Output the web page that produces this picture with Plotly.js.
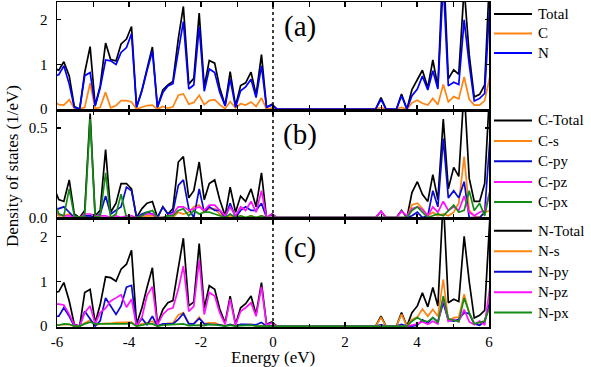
<!DOCTYPE html>
<html>
<head>
<meta charset="utf-8">
<script src="https://cdn.plot.ly/plotly-3.0.1.min.js"></script>
<style>html,body{margin:0;padding:0;background:#fff;}#chart{width:591px;height:367px;}</style>
</head>
<body>
<div id="chart"></div>
<script>
// Energy grid (eV)
const energy = [-6.09,-5.95,-5.81,-5.66,-5.52,-5.37,-5.23,-5.08,-4.94,-4.80,-4.65,-4.51,-4.36,-4.22,-4.07,-3.93,-3.79,-3.64,-3.50,-3.35,-3.21,-3.06,-2.92,-2.78,-2.63,-2.49,-2.34,-2.20,-2.05,-1.91,-1.77,-1.62,-1.48,-1.33,-1.19,-1.04,-0.90,-0.76,-0.61,-0.47,-0.32,-0.18,-0.03,0.11,0.26,0.40,0.54,0.69,0.83,0.98,1.12,1.27,1.41,1.55,1.70,1.84,1.99,2.13,2.28,2.42,2.56,2.71,2.85,3.00,3.14,3.29,3.43,3.57,3.72,3.86,4.01,4.15,4.30,4.44,4.58,4.73,4.87,5.02,5.16,5.31,5.45,5.59,5.74,5.88,6.03];

// Panel (a)
const total = [0.92,0.87,1.06,0.74,0.06,0,0.82,1.40,0.08,0.52,1.48,1.11,1.08,1.46,1.57,1.85,0.04,0.43,0.90,1.39,0.04,0.43,0.54,0.62,1.58,2.30,0.56,0.69,2.15,0.50,1.09,1.03,0.48,0.08,0.84,0.07,0.53,0.59,0.83,0.32,1.22,0.04,0.11,0,0,0,0,0,0,0,0,0,0,0,0,0,0,0,0,0,0,0,0,0.26,0,0,0,0.34,0,0.44,0.65,0.87,0.48,1.10,0.50,3.40,0.68,0.88,0.78,2.72,1.22,0.27,0.33,0.54,3.25];
const cTot = [0.17,0.10,0.09,0.21,0.02,0,0.04,0.58,0.01,0.04,0.38,0.03,0.08,0.19,0.19,0.16,0,0.05,0.08,0.09,0,0.06,0.02,0.05,0.31,0.34,0.11,0.15,0.31,0.10,0.19,0.21,0.10,0.01,0.17,0.03,0.12,0.09,0.16,0.06,0.25,0,0.02,0,0,0,0,0,0,0,0,0,0,0,0,0,0,0,0,0,0,0,0,0.035,0,0,0,0.04,0,0.14,0.20,0.13,0.09,0.24,0.10,0.55,0.16,0.28,0.23,0.72,0.22,0.09,0.09,0.19,0.75];
const nTot = [0.75,0.77,0.97,0.56,0.04,0,0.75,0.82,0.07,0.48,1.10,1.08,1.00,1.27,1.38,1.69,0.04,0.41,0.86,1.30,0.04,0.37,0.52,0.57,1.30,1.96,0.45,0.54,1.84,0.40,0.90,0.82,0.38,0.07,0.67,0.04,0.41,0.50,0.67,0.26,0.97,0.04,0.09,0,0,0,0,0,0,0,0,0,0,0,0,0,0,0,0,0,0,0,0,0.22,0,0,0,0.30,0,0.30,0.45,0.74,0.43,0.86,0.45,2.85,0.52,0.60,0.55,2.00,1.00,0.18,0.24,0.35,2.50];

// Panel (b): C orbitals
const cS = [0.02,0.01,0.01,0.02,0,0,0,0.01,0,0,0,0,0,0,0,0,0,0,0.01,0.01,0,0,0,0,0.03,0.02,0.03,0.06,0.07,0.03,0.05,0.05,0.02,0,0.01,0,0.01,0,0.01,0,0.01,0,0,0,0,0,0,0,0,0,0,0,0,0,0,0,0,0,0,0,0,0,0,0,0,0,0,0,0,0.07,0.08,0.05,0.01,0.03,0.01,0.02,0.01,0.03,0.08,0.34,0.04,0.01,0,0.03,0.04];
const cPy = [0.04,0.05,0.06,0.03,0,0,0.01,0.01,0,0.02,0.12,0.02,0.04,0.06,0.17,0.15,0,0.02,0.03,0.02,0,0.06,0.02,0.03,0.18,0.21,0.05,0,0.16,0.03,0.06,0.04,0.04,0,0.08,0,0.04,0.06,0.04,0.04,0.08,0,0,0,0,0,0,0,0,0,0,0,0,0,0,0,0,0,0,0,0,0,0,0,0,0,0,0,0,0.01,0.03,0,0.01,0.15,0.06,0.44,0.11,0.15,0.11,0.20,0,0,0,0.03,0.45];
const cPz = [0.03,0.02,0.01,0.01,0,0,0.02,0.02,0.01,0.01,0.01,0,0.01,0,0.01,0.01,0,0.01,0.02,0.02,0,0,0.01,0.02,0.06,0.06,0.04,0.05,0.06,0.04,0.07,0.07,0.04,0.01,0.06,0.01,0.06,0.04,0.09,0.03,0.15,0,0.02,0,0,0,0,0,0,0,0,0,0,0,0,0,0,0,0,0,0,0,0,0.035,0,0,0,0.035,0.01,0.05,0.06,0.045,0.01,0.06,0.03,0.09,0.04,0.06,0.04,0.12,0.03,0.01,0.03,0.04,0.15];
const cPx = [0.10,0.02,0.01,0.16,0.01,0,0.01,0.55,0,0.01,0.25,0,0.02,0.13,0,0,0,0.01,0.03,0.04,0,0,0.01,0.01,0.04,0.05,0.01,0.04,0.02,0.03,0.03,0.02,0.01,0,0.02,0,0.01,0,0.01,0,0.01,0,0,0,0,0,0,0,0,0,0,0,0,0,0,0,0,0,0,0,0,0,0,0,0,0,0,0,0,0.04,0.06,0.03,0,0.01,0.02,0.01,0.04,0.07,0.03,0.04,0.15,0.04,0.08,0.01,0.15];

// Panel (c): N orbitals
const nS = [0.02,0.03,0.04,0.04,0,0,0.07,0.13,0.02,0.05,0.06,0.06,0.08,0.08,0.08,0.09,0,0.05,0.07,0.11,0.01,0.04,0.06,0.07,0.25,0.30,0.06,0.05,0.20,0.05,0.07,0.07,0.03,0.01,0.03,0.01,0.03,0.03,0.04,0.01,0.01,0,0.01,0,0,0,0,0,0,0,0,0,0,0,0,0,0,0,0,0,0,0,0,0.19,0,0,0,0.26,0,0.15,0.20,0.38,0.22,0.37,0.22,1.04,0.11,0.19,0.20,0.71,0.30,0.05,0.03,0.11,0.60];
const nPy = [0.22,0.22,0.41,0.22,0,0,0.33,0.15,0,0.12,0.63,0.45,0.26,0.45,0.87,0.91,0,0.17,0.03,0.22,0,0.05,0.05,0.05,0.15,0.28,0.05,0.05,0.17,0.05,0.04,0.04,0.03,0,0.04,0,0.04,0.04,0.04,0.03,0.08,0,0.01,0,0,0,0,0,0,0,0,0,0,0,0,0,0,0,0,0,0,0,0,0.03,0,0,0,0.04,0,0,0.02,0.14,0.07,0.19,0.10,0.52,0.13,0.11,0.15,0.30,0.28,0.05,0.02,0.11,0.55];
const nPz = [0.49,0.49,0.47,0.26,0.03,0,0.30,0.45,0.05,0.30,0.40,0.56,0.63,0.70,0.42,0.60,0,0.20,0.68,0.88,0.02,0.26,0.37,0.41,0.82,1.34,0.33,0.44,1.47,0.26,0.75,0.67,0.30,0.04,0.60,0.02,0.33,0.41,0.52,0.22,0.88,0.02,0.07,0,0,0,0,0,0,0,0,0,0,0,0,0,0,0,0,0,0,0,0,0,0,0,0,0,0,0.02,0.05,0.10,0.04,0.11,0.05,0.63,0.11,0.15,0.10,0.37,0.10,0.03,0.11,0.02,0.90];
const nPx = [0.02,0.02,0.05,0.04,0,0,0.05,0.09,0.05,0.05,0.05,0.05,0.04,0.04,0.05,0.07,0,0.02,0.05,0.05,0,0.02,0.03,0.03,0.05,0.05,0.01,0.02,0.02,0.01,0.04,0.03,0.01,0,0.02,0,0.01,0.02,0.02,0,0,0,0,0,0,0,0,0,0,0,0,0,0,0,0,0,0,0,0,0,0,0,0,0,0,0,0,0,0,0.11,0.19,0.12,0.10,0.19,0.08,0.67,0.17,0.13,0.10,0.63,0.30,0.05,0.08,0.11,0.45];

const xTicks = [-6,-4,-2,0,2,4,6];
const panelLabels = ['(a)','(b)','(c)'];

const COL = {black:'#000000', orange:'#FF8412', blue:'#0000FF', dblue:'#0a0ad2', mag:'#FF10FF', green:'#138C13'};

const panels = [
  {axis:'y',  names:['Total','C','N'], series:[total,cTot,nTot], colors:[COL.black,COL.orange,COL.blue]},
  {axis:'y2', names:['C-Total','C-s','C-py','C-pz','C-px'], series:[cTot,cS,cPy,cPz,cPx], colors:[COL.black,COL.orange,COL.dblue,COL.mag,COL.green]},
  {axis:'y3', names:['N-Total','N-s','N-py','N-pz','N-px'], series:[nTot,nS,nPy,nPz,nPx], colors:[COL.black,COL.orange,COL.dblue,COL.mag,COL.green]}
];

const traces = [];
panels.forEach(p => {
  p.series.forEach((s, k) => {
    traces.push({x: energy, y: s, xaxis:'x', yaxis:p.axis, type:'scatter', mode:'lines',
      name:p.names[k], showlegend:false, line:{color:p.colors[k], width:1.7}, hoverinfo:'skip'});
  });
});

const FONT = '"Liberation Serif", "Times New Roman", Times, serif';
const L = 57, R = 489, T = 2, B = 327;
const W = R - L, H = B - T;
const px2x = v => (v - L) / W;
const py2y = v => (B - v) / H;

const legendY = [[14, 33.5, 53], [120.5, 141, 161.3, 182, 202], [230.7, 251.2, 271.7, 292.3, 312.5]];
const shapes = [];
const annotations = [];
panels.forEach((p, i) => {
  p.names.forEach((nm, k) => {
    const yy = py2y(legendY[i][k]);
    shapes.push({type:'line', xref:'paper', yref:'paper', x0:px2x(494), x1:px2x(532), y0:yy, y1:yy,
      line:{color:p.colors[k], width:2}});
    annotations.push({xref:'paper', yref:'paper', x:px2x(536), y:yy, xanchor:'left', yanchor:'middle',
      text:nm, showarrow:false, font:{family:FONT, size:15, color:'#000'}});
  });
});
const labelY = [27, 135, 247];
panelLabels.forEach((t, i) => {
  annotations.push({xref:'paper', yref:'paper', x:px2x(300), y:py2y(labelY[i]), xanchor:'center', yanchor:'middle',
    text:t, showarrow:false, font:{family:FONT, size:29, color:'#000'}});
});
annotations.push({xref:'paper', yref:'paper', x:px2x(12), y:py2y(166), textangle:-90, xanchor:'center', yanchor:'middle',
  text:'Density of states (1/eV)', showarrow:false, font:{family:FONT, size:17, color:'#000'}});
annotations.push({xref:'paper', yref:'paper', x:0.5, y:py2y(357), xanchor:'center', yanchor:'middle',
  text:'Energy (eV)', showarrow:false, font:{family:FONT, size:17, color:'#000'}});

shapes.push({type:'line', xref:'x', yref:'paper', x0:0, x1:0, y0:0, y1:1, line:{color:'#000', width:1.5, dash:'dot'}});

const d1 = py2y(218.5), d2 = py2y(110);
const yBase = {showline:true, linecolor:'#000', linewidth:1.5, mirror:'ticks', ticks:'inside', ticklen:4, tickwidth:1.2,
  tickcolor:'#000', showgrid:false, zeroline:false, anchor:'x', ticklabelstandoff:5,
  tickfont:{family:FONT, size:15, color:'#000'}};

const layout = {
  width:591, height:367, margin:{l:L, r:591-R, t:T, b:367-B},
  font:{family:FONT, size:15, color:'#000'},
  paper_bgcolor:'#fff', plot_bgcolor:'#fff', showlegend:false,
  xaxis:{range:[-6,6], anchor:'y3', tickvals:xTicks, ticktext:xTicks.map(String), ticks:'inside', ticklen:5, tickwidth:1.2,
    tickcolor:'#000', showline:true, linecolor:'#000', linewidth:1.5, mirror:'allticks', showgrid:false, zeroline:false,
    minor:{dtick:1, ticks:'inside', ticklen:3, tickwidth:1, tickcolor:'#000', showgrid:false},
    ticklabelstandoff:0, tickfont:{family:FONT, size:15, color:'#000'}},
  yaxis:Object.assign({}, yBase, {domain:[d2,1], range:[-0.02,2.4], tickvals:[0,1,2], ticktext:['0','1','2']}),
  yaxis2:Object.assign({}, yBase, {domain:[d1,d2], range:[-0.005,0.6], tickvals:[0,0.5], ticktext:['0.0','0.5']}),
  yaxis3:Object.assign({}, yBase, {domain:[0,d1], range:[-0.02,2.4], tickvals:[0,1,2], ticktext:['0','1','2']}),
  shapes:shapes, annotations:annotations
};

Plotly.newPlot('chart', traces, layout, {staticPlot:true, displayModeBar:false});
</script>
</body>
</html>
